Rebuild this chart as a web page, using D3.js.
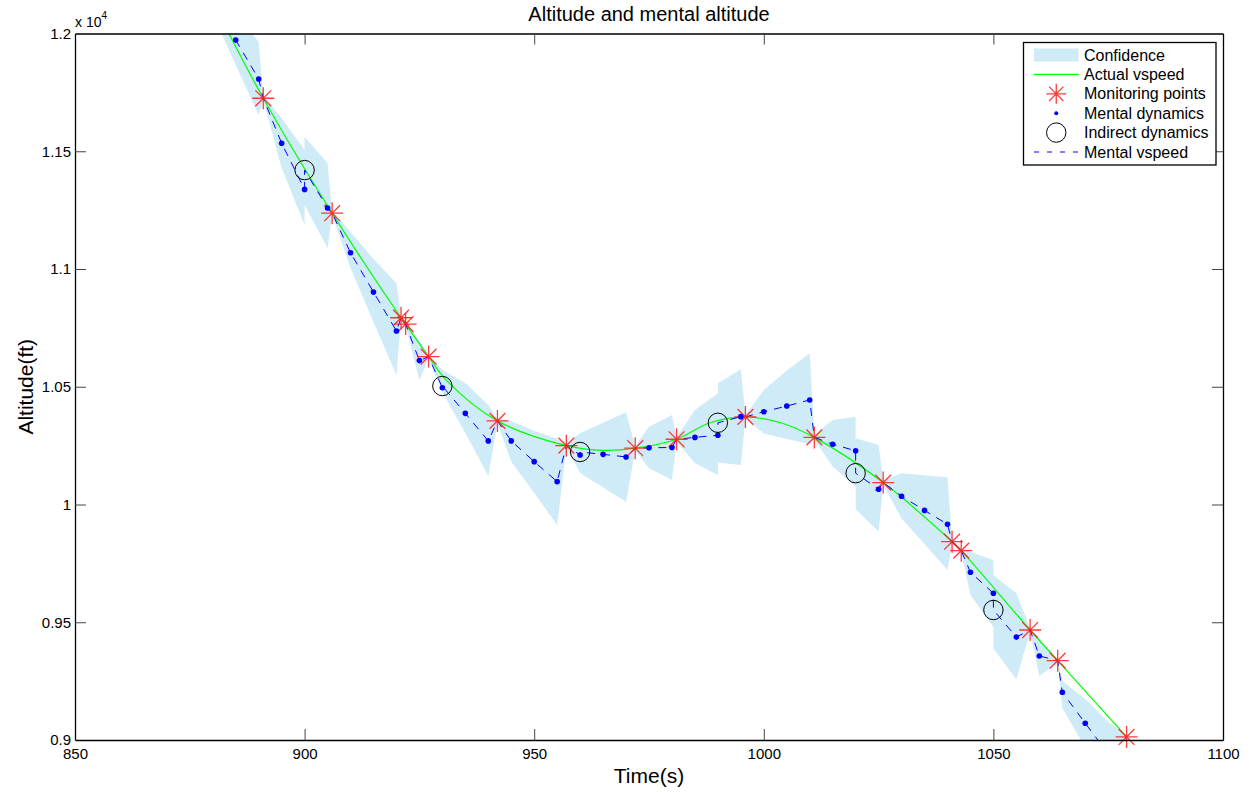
<!DOCTYPE html>
<html>
<head>
<meta charset="utf-8">
<script src="https://cdn.jsdelivr.net/npm/d3@7"></script>
<style>
  body { margin: 0; background: #fff; }
  text { font-family: Helvetica, Arial, "Liberation Sans", sans-serif; fill: #000; }
</style>
</head>
<body>
<div id="chart"></div>
<script>
// axis ticks
const xTicks = [850, 900, 950, 1000, 1050, 1100];
const yTicks = [9000, 9500, 10000, 10500, 11000, 11500, 12000];

// actual altitude (green)
const actualT = [880, 891, 906, 921, 922, 927, 931, 942, 957, 965, 972, 981, 988, 996, 1004, 1011, 1026, 1041, 1043, 1058, 1064, 1079];
const actualAlt = [12135, 11725, 11237, 10793, 10766, 10628, 10525, 10355, 10250, 10230, 10239, 10277, 10345, 10372, 10345, 10285, 10093, 9842, 9804, 9467, 9337, 9013];

// monitoring points (red stars)
const monitorT = [891, 906, 921, 922, 927, 942, 957, 972, 981, 996, 1011, 1026, 1041, 1043, 1058, 1064, 1079];
const monitorAlt = [11725, 11237, 10793, 10766, 10628, 10355, 10250, 10239, 10277, 10372, 10285, 10093, 9842, 9804, 9467, 9337, 9013];

// mental dynamics (blue dots)
const mentalT = [880, 885, 890, 895, 900, 905, 910, 915, 920, 925, 930, 935, 940, 945, 950, 955, 960, 965, 970, 975, 980, 985, 990, 995, 1000, 1005, 1010, 1015, 1020, 1025, 1030, 1035, 1040, 1045, 1050, 1055, 1060, 1065, 1070, 1075];
const mentalAlt = [12138, 11972, 11807, 11534, 11338, 11259, 11069, 10902, 10737, 10611, 10496, 10387, 10270, 10270, 10182, 10097, 10210, 10213, 10202, 10241, 10242, 10285, 10294, 10373, 10394, 10418, 10444, 10256, 10228, 10065, 10035, 9975, 9916, 9712, 9623, 9437, 9357, 9203, 9071, 8941];

// indirect dynamics (black circles)
const indirectT = [900, 930, 960, 990, 1020, 1050];
const indirectAlt = [11420, 10503, 10223, 10347, 10133, 9552];

// confidence band
const confT = [880, 885, 890, 891, 895, 900, 900, 905, 906, 910, 915, 920, 921, 922, 925, 927, 930, 935, 940, 942, 945, 950, 955, 957, 960, 965, 970, 972, 975, 980, 981, 985, 990, 990, 995, 996, 1000, 1005, 1010, 1011, 1015, 1020, 1020, 1025, 1026, 1030, 1035, 1040, 1041, 1043, 1045, 1050, 1050, 1055, 1058, 1060, 1064, 1065, 1070, 1075, 1079];
const confHigh = [12206, 12079, 11965, 11735, 11641, 11505, 11562, 11449, 11246, 11157, 11042, 10939, 10800, 10775, 10694, 10637, 10571, 10516, 10423, 10363, 10355, 10312, 10279, 10259, 10304, 10347, 10392, 10248, 10330, 10380, 10287, 10401, 10472, 10515, 10574, 10380, 10486, 10569, 10642, 10295, 10359, 10373, 10281, 10253, 10102, 10133, 10124, 10116, 9851, 9813, 9798, 9764, 9701, 9623, 9476, 9425, 9346, 9251, 9174, 9076, 9021];
const confLow = [12083, 11866, 11654, 11718, 11429, 11187, 11272, 11088, 11229, 11004, 10775, 10550, 10788, 10758, 10529, 10618, 10478, 10304, 10121, 10346, 10182, 10049, 9913, 10240, 10134, 10072, 10012, 10229, 10154, 10104, 10268, 10175, 10125, 10178, 10168, 10363, 10302, 10278, 10257, 10276, 10161, 10076, 9980, 9885, 10083, 9941, 9832, 9722, 9832, 9794, 9616, 9480, 9389, 9258, 9459, 9272, 9327, 9136, 8968, 8788, 9004];

const legendLabels = ["Confidence", "Actual vspeed", "Monitoring points", "Mental dynamics", "Indirect dynamics", "Mental vspeed"];

const width = 1256, height = 792;
const plotLeft = 75, plotRight = 1223, plotTop = 33.5, plotBottom = 740;

const blue = "#0000ff", green = "#00ff00", red = "#ff1a1a", bandColor = "#cfebf8";

const svg = d3.select("#chart").append("svg")
  .attr("width", width)
  .attr("height", height);

const x = d3.scaleLinear().domain([850, 1100]).range([plotLeft, plotRight]);
const y = d3.scaleLinear().domain([9000, 12000]).range([plotBottom, plotTop]);

svg.append("defs").append("clipPath").attr("id", "plotclip")
  .append("rect")
  .attr("x", plotLeft).attr("y", plotTop)
  .attr("width", plotRight - plotLeft).attr("height", plotBottom - plotTop);

// star marker like matlab '*'
function starPath(cx, cy, r) {
  const b = r * 0.72;
  return `M${cx - r},${cy}L${cx + r},${cy}M${cx},${cy - r}L${cx},${cy + r}` +
    `M${cx - b},${cy - b}L${cx + b},${cy + b}M${cx - b},${cy + b}L${cx + b},${cy - b}`;
}

const plot = svg.append("g").attr("clip-path", "url(#plotclip)");

// confidence band
const band = d3.area()
  .x(i => x(confT[i]))
  .y0(i => y(confLow[i]))
  .y1(i => y(confHigh[i]));

plot.append("path")
  .datum(d3.range(confT.length))
  .attr("d", band)
  .attr("fill", bandColor)
  .attr("stroke", "none");

// actual vspeed
const actual = actualT.map((t, i) => [t, actualAlt[i]]);
plot.append("path")
  .datum(actual)
  .attr("d", d3.line().x(d => x(d[0])).y(d => y(d[1])).curve(d3.curveCatmullRom.alpha(0.5)))
  .attr("fill", "none")
  .attr("stroke", green)
  .attr("stroke-width", 1.2);

const inside = (t, v) => t >= 850 && t <= 1100 && v >= 9000 && v <= 12000;

// monitoring points
svg.append("g").selectAll("path")
  .data(monitorT.map((t, i) => [t, monitorAlt[i]]).filter(d => inside(d[0], d[1])))
  .join("path")
  .attr("d", d => starPath(x(d[0]), y(d[1]), 11))
  .attr("stroke", red)
  .attr("stroke-opacity", 0.85)
  .attr("stroke-width", 1.3)
  .attr("fill", "none");

// mental dynamics dots
svg.append("g").selectAll("circle")
  .data(mentalT.map((t, i) => [t, mentalAlt[i]]).filter(d => inside(d[0], d[1])))
  .join("circle")
  .attr("cx", d => x(d[0]))
  .attr("cy", d => y(d[1]))
  .attr("r", 2.8)
  .attr("fill", blue);

// indirect dynamics
svg.append("g").selectAll("circle")
  .data(indirectT.map((t, i) => [t, indirectAlt[i]]))
  .join("circle")
  .attr("cx", d => x(d[0]))
  .attr("cy", d => y(d[1]))
  .attr("r", 9.7)
  .attr("fill", "none")
  .attr("stroke", "#000")
  .attr("stroke-width", 1);

// mental vspeed: dots, indirect corrections and resets merged in time order
const mentalPts = [];
mentalT.forEach((t, i) => mentalPts.push({ t: t, v: mentalAlt[i], k: 0 }));
indirectT.forEach((t, i) => mentalPts.push({ t: t, v: indirectAlt[i], k: 1 }));
monitorT.forEach((t, i) => mentalPts.push({ t: t, v: monitorAlt[i], k: 0 }));
mentalPts.sort((a, b) => a.t - b.t || a.k - b.k);

plot.append("path")
  .datum(mentalPts)
  .attr("d", d3.line().x(d => x(d.t)).y(d => y(d.v)))
  .attr("fill", "none")
  .attr("stroke", blue)
  .attr("stroke-width", 1)
  .attr("stroke-dasharray", "8,7");

// axes
const tickLen = 11;
const axB = svg.append("g").attr("transform", `translate(0,${plotBottom})`)
  .call(d3.axisBottom(x).tickValues(xTicks).tickSizeInner(-tickLen).tickSizeOuter(0).tickPadding(8)
    .tickFormat(d3.format("d")));
const axT = svg.append("g").attr("transform", `translate(0,${plotTop})`)
  .call(d3.axisTop(x).tickValues(xTicks).tickSizeInner(-tickLen).tickSizeOuter(0).tickFormat(""));
const axL = svg.append("g").attr("transform", `translate(${plotLeft},0)`)
  .call(d3.axisLeft(y).tickValues(yTicks).tickSizeInner(-tickLen).tickSizeOuter(0).tickPadding(4)
    .tickFormat(d => d3.format("~g")(d / 1e4)));
const axR = svg.append("g").attr("transform", `translate(${plotRight},0)`)
  .call(d3.axisRight(y).tickValues(yTicks).tickSizeInner(-tickLen).tickSizeOuter(0).tickFormat(""));

[axB, axT, axL, axR].forEach(g => {
  g.select(".domain").attr("stroke", "#000").attr("stroke-width", 1.3);
  g.selectAll(".tick line").attr("stroke", "#444");
  g.selectAll(".tick text")
    .style("font-family", "Helvetica, Arial, 'Liberation Sans', sans-serif")
    .style("font-size", "15px")
    .attr("fill", "#000");
});
// drop the end ticks that sit on the box corners
axB.selectAll(".tick line").filter(d => d === 850 || d === 1100).remove();
axT.selectAll(".tick line").filter(d => d === 850 || d === 1100).remove();
axL.selectAll(".tick line").filter(d => d === 9000 || d === 12000).remove();
axR.selectAll(".tick line").filter(d => d === 9000 || d === 12000).remove();

// exponent label
const expo = svg.append("text")
  .attr("x", plotLeft)
  .attr("y", 27)
  .style("font-size", "14px")
  .text("x 10");
expo.append("tspan")
  .attr("dy", -8)
  .style("font-size", "10px")
  .text("4");

// titles
svg.append("text")
  .attr("x", (plotLeft + plotRight) / 2)
  .attr("y", 21)
  .attr("text-anchor", "middle")
  .style("font-size", "20px")
  .text("Altitude and mental altitude");

svg.append("text")
  .attr("x", (plotLeft + plotRight) / 2)
  .attr("y", 783)
  .attr("text-anchor", "middle")
  .style("font-size", "21px")
  .text("Time(s)");

svg.append("text")
  .attr("transform", `translate(33,${(plotTop + plotBottom) / 2}) rotate(-90)`)
  .attr("text-anchor", "middle")
  .style("font-size", "21px")
  .text("Altitude(ft)");

// legend
const lg = svg.append("g").attr("transform", "translate(1023.5,42.5)");
lg.append("rect")
  .attr("width", 192.5)
  .attr("height", 122.5)
  .attr("fill", "#fff")
  .attr("stroke", "#000")
  .attr("stroke-width", 1.3);

const rowY = i => 12.5 + i * 19.4;
const sx0 = 10.5, sx1 = 55, sxm = (sx0 + sx1) / 2;

lg.append("rect")
  .attr("x", sx0).attr("y", rowY(0) - 6.5)
  .attr("width", sx1 - sx0).attr("height", 13)
  .attr("fill", bandColor);
lg.append("line")
  .attr("x1", sx0).attr("x2", sx1).attr("y1", rowY(1)).attr("y2", rowY(1))
  .attr("stroke", green).attr("stroke-width", 1.2);
lg.append("path")
  .attr("d", starPath(sxm, rowY(2), 10))
  .attr("stroke", red).attr("stroke-opacity", 0.85).attr("stroke-width", 1.3).attr("fill", "none");
lg.append("circle")
  .attr("cx", sxm).attr("cy", rowY(3)).attr("r", 2)
  .attr("fill", blue);
lg.append("circle")
  .attr("cx", sxm).attr("cy", rowY(4)).attr("r", 9.7)
  .attr("fill", "none").attr("stroke", "#000");
lg.append("line")
  .attr("x1", sx0).attr("x2", sx1).attr("y1", rowY(5)).attr("y2", rowY(5))
  .attr("stroke", blue).attr("stroke-dasharray", "5,8");

lg.selectAll("text.lab")
  .data(legendLabels)
  .join("text")
  .attr("class", "lab")
  .attr("x", 60.5)
  .attr("y", (d, i) => rowY(i) + 5.6)
  .style("font-size", "16px")
  .text(d => d);
</script>
</body>
</html>
